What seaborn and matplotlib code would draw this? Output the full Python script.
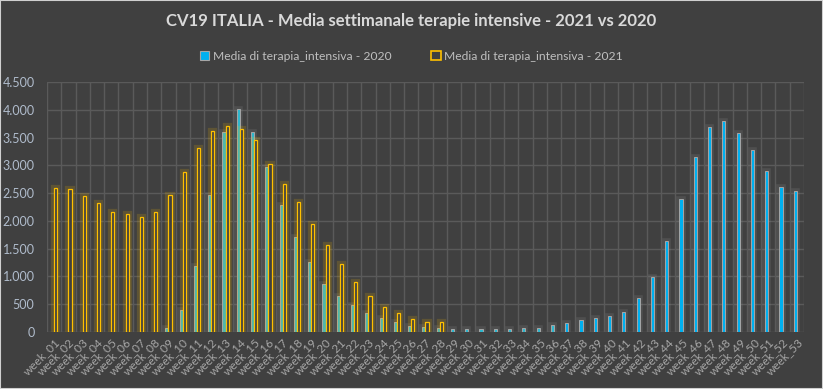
import numpy as np
import pandas as pd
import matplotlib
matplotlib.use("Agg")
import matplotlib.pyplot as plt
import matplotlib.patheffects as pe
from matplotlib.patches import Rectangle
import seaborn as sns

weeks = ["week_01", "week_02", "week_03", "week_04", "week_05", "week_06", "week_07", "week_08",
         "week_09", "week_10", "week_11", "week_12", "week_13", "week_14", "week_15", "week_16",
         "week_17", "week_18", "week_19", "week_20", "week_21", "week_22", "week_23", "week_24",
         "week_25", "week_26", "week_27", "week_28", "week_29", "week_30", "week_31", "week_32",
         "week_33", "week_34", "week_35", "week_36", "week_37", "week_38", "week_39", "week_40",
         "week_41", "week_42", "week_43", "week_44", "week_45", "week_46", "week_47", "week_48",
         "week_49", "week_50", "week_51", "week_52", "week_53"]

nan = np.nan
ti_2020 = [nan, nan, nan, nan, nan, nan, nan, nan,
           72, 400, 1190, 2459, 3608, 4021, 3608, 2962,
           2280, 1706, 1257, 862, 646, 490, 341, 255,
           185, 112, 93, 78, 62, 55, 50, 52,
           60, 75, 78, 135, 168, 215, 255, 290,
           360, 605, 998, 1634, 2399, 3153, 3692, 3799,
           3584, 3279, 2890, 2615, 2543]

ti_2021 = [2585, 2567, 2447, 2316, 2166, 2118, 2064, 2166,
           2465, 2872, 3321, 3611, 3716, 3662, 3450, 3033,
           2657, 2334, 1939, 1567, 1226, 898, 646, 452,
           345, 240, 186, 174] + [nan] * 25

label_2020 = "Media di terapia_intensiva - 2020"
label_2021 = "Media di terapia_intensiva - 2021"
title = "CV19 ITALIA - Media settimanale terapie intensive - 2021 vs 2020"
yticks = [0, 500, 1000, 1500, 2000, 2500, 3000, 3500, 4000, 4500]
ytick_labels = ["0", "500", "1.000", "1.500", "2.000", "2.500", "3.000", "3.500", "4.000", "4.500"]

BG = "#404040"
BLUE = "#00b0f0"
YELLOW = "#ffc000"

df = pd.DataFrame({
    "week": weeks * 2,
    "value": ti_2020 + ti_2021,
    "serie": [label_2020] * len(weeks) + [label_2021] * len(weeks),
})

sns.set_style("dark")
plt.rcParams["font.family"] = ["Lato", "DejaVu Sans"]

fig = plt.figure(figsize=(8.23, 3.89), dpi=100, facecolor=BG)
ax = fig.add_axes([47 / 823, 1 - 332 / 389, (804 - 47) / 823, (332 - 82) / 389])
ax.set_facecolor(BG)

sns.barplot(data=df, x="week", y="value", hue="serie", order=weeks,
            hue_order=[label_2020, label_2021],
            palette={label_2020: BLUE, label_2021: BG},
            width=0.44, ax=ax, legend=False, zorder=3)

c2020, c2021 = ax.containers[0], ax.containers[1]
for i, bar in enumerate(c2020):
    fill = "#2fb6cc" if i < 28 else BLUE
    bar.set_facecolor(fill)
    bar.set_edgecolor("#a6a6a6")
    bar.set_linewidth(0.7)
    bar.set_path_effects([pe.Stroke(linewidth=4, foreground="#909090", alpha=0.2), pe.Normal()])
for bar in c2021:
    bar.set_facecolor(BG)
    bar.set_edgecolor(YELLOW)
    bar.set_linewidth(0.9)
    bar.set_path_effects([pe.Stroke(linewidth=4.5, foreground=YELLOW, alpha=0.16), pe.Normal()])

ax.set_ylim(0, 4500)
ax.set_xlim(-0.5, len(weeks) - 0.5)
ax.set_yticks(yticks)
ax.set_yticklabels(ytick_labels)
ax.set_xticks(range(len(weeks)))
ax.set_xticklabels(weeks, rotation=45, ha="right", rotation_mode="anchor")
ax.set_xticks(np.arange(-0.5, len(weeks), 1.0), minor=True)
ax.tick_params(axis="y", length=0, pad=9, labelsize=9, labelcolor="#b0bccc")
ax.tick_params(axis="x", which="both", length=0, pad=3, labelsize=8.5, labelcolor="#a6a6a6")
ax.grid(False)
ax.grid(axis="y", which="major", color="#5a5a5a", linewidth=1, zorder=0)
ax.grid(axis="x", which="minor", color="#5a5a5a", linewidth=1, zorder=0)
ax.set_axisbelow(True)
for s in ax.spines.values():
    s.set_visible(False)
ax.set_xlabel("")
ax.set_ylabel("")

fig.text(0.5, 1 - 21 / 389, title, ha="center", va="center", fontsize=12,
         fontweight="bold", color="#d9d9d9")

handles = [Rectangle((0, 0), 1, 1, facecolor=BLUE, edgecolor="#a6a6a6", linewidth=0.8),
           Rectangle((0, 0), 1, 1, facecolor=BG, edgecolor=YELLOW, linewidth=1.2)]
fig.legend(handles, [label_2020, label_2021], loc="center", ncol=2,
           bbox_to_anchor=(0.5, 1 - 56 / 389), frameon=False, fontsize=8.7,
           labelcolor="#bfbfbf", handlelength=0.75, handleheight=0.75,
           handletextpad=0.3, columnspacing=3.3)

fig.patches.append(Rectangle((0, 0), 1, 1, transform=fig.transFigure, fill=False,
                             edgecolor="#d0d0d0", linewidth=1.5))

fig.savefig("out.png", dpi=100, facecolor=BG)
